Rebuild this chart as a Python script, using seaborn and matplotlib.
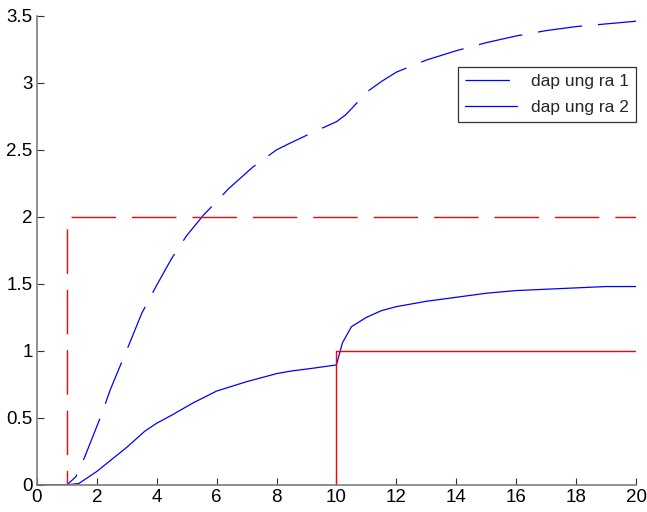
import numpy as np
import pandas as pd
import matplotlib
matplotlib.use("Agg")
import matplotlib.pyplot as plt
import seaborn as sns

sns.set_style("white")
plt.rcParams['font.family'] = ['Liberation Sans', 'DejaVu Sans']
plt.rcParams['lines.scale_dashes'] = False

# -----------------------------
# data
# -----------------------------
t1 = [0, 1.0, 1.3, 1.6, 2.15, 2.45, 3.1, 3.5, 4.0, 4.5, 5.0, 5.55, 6.4, 7.2,
      8.0, 8.45, 9.3, 10.0, 10.3, 10.6, 11.0, 11.5, 12.0, 13.0, 14.0, 15.0,
      16.0, 17.0, 18.0, 19.0, 20.0]
y1 = [0, 0, 0.06, 0.21, 0.52, 0.71, 1.06, 1.28, 1.49, 1.69, 1.86, 2.01, 2.21,
      2.37, 2.50, 2.55, 2.64, 2.71, 2.76, 2.83, 2.93, 3.01, 3.08, 3.17,
      3.24, 3.30, 3.35, 3.39, 3.42, 3.44, 3.46]

t2 = [0, 1.0, 1.4, 2.0, 2.5, 3.0, 3.6, 4.0, 4.5, 5.2, 6.0, 7.0, 8.0, 8.5,
      9.2, 10.0, 10.2, 10.5, 11.0, 11.5, 12.0, 13.0, 14.0, 15.0, 16.0, 17.0,
      18.0, 19.0, 20.0]
y2 = [0, 0, 0.01, 0.10, 0.19, 0.28, 0.40, 0.46, 0.52, 0.61, 0.70, 0.77, 0.83,
      0.85, 0.87, 0.895, 1.06, 1.18, 1.25, 1.30, 1.33, 1.37, 1.40, 1.43, 1.45,
      1.46, 1.47, 1.48, 1.48]

# reference inputs (steps)
tr1 = [0, 1, 1, 20]
yr1 = [0, 0, 2, 2]
tr2 = [0, 10, 10, 20]
yr2 = [0, 0, 1, 1]

blue = '#0000ff'
red = '#ff0000'
long_dash = (0, (32, 11.5))

fig = plt.figure(figsize=(6.47, 5.12), dpi=100)
ax = fig.add_axes([0.057, 0.053, 0.926, 0.916])

sns.lineplot(x=t1, y=y1, ax=ax, color=blue, lw=0.9, linestyle=long_dash,
             sort=False, label='dap ung ra 1')
sns.lineplot(x=t2, y=y2, ax=ax, color=blue, lw=0.9, sort=False,
             label='dap ung ra 2')
ax.plot(tr1, yr1, color=red, lw=1.0, linestyle=long_dash)
ax.plot(tr2, yr2, color=red, lw=1.0)

ax.set_xlim(0, 20)
ax.set_ylim(0, 3.5)
ax.set_xticks(np.arange(0, 21, 2))
ax.set_yticks(np.arange(0, 3.6, 0.5))
ax.set_yticklabels(['0', '0.5', '1', '1.5', '2', '2.5', '3', '3.5'])

sns.despine(ax=ax)
for s in ['left', 'bottom']:
    ax.spines[s].set_color('#7f7f7f')
    ax.spines[s].set_linewidth(1.2)
ax.tick_params(direction='in', length=5, width=0.8, color='#333333',
               labelsize=13.5, pad=3, labelcolor='black',
               bottom=True, left=True)

leg = ax.legend(loc='upper right', bbox_to_anchor=(1.0, 0.891), fontsize=12.5,
                frameon=True, fancybox=False, handlelength=3.0,
                handletextpad=0.8, borderpad=0.4, labelspacing=0.6,
                borderaxespad=0)
leg.get_frame().set_edgecolor('black')
leg.get_frame().set_linewidth(0.9)

fig.savefig('out.png', dpi=100)
